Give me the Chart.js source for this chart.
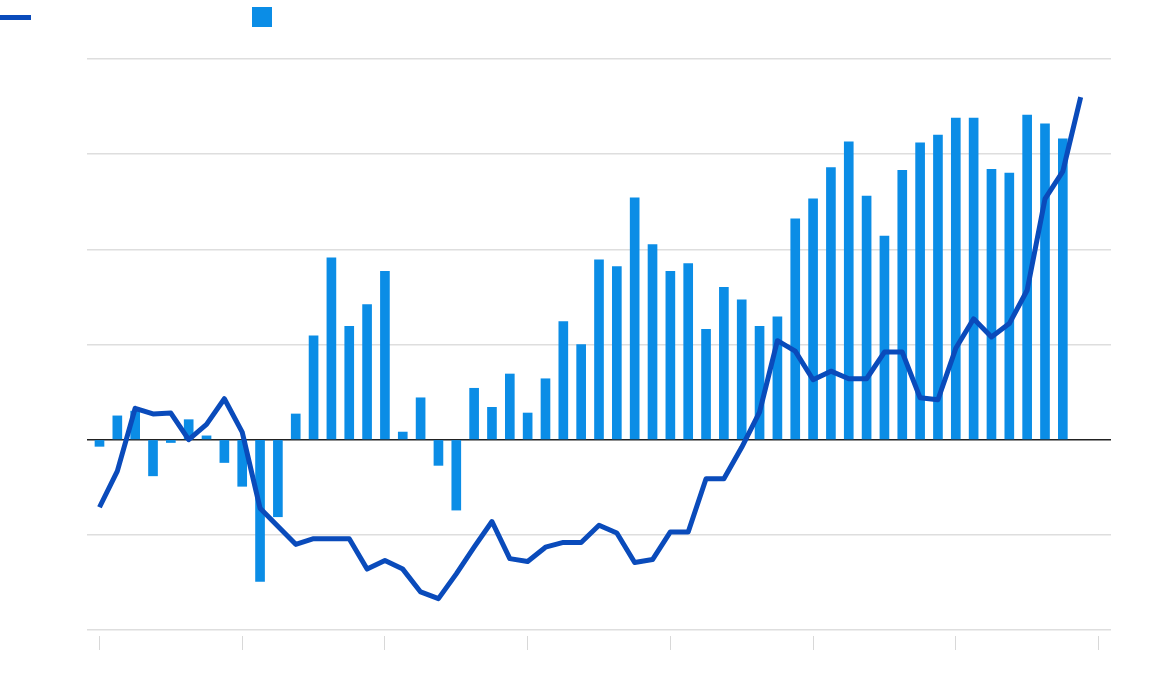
<!DOCTYPE html>
<html>
<head>
<meta charset="utf-8">
<script src="https://cdn.jsdelivr.net/npm/chart.js@4"></script>
<style>
  html, body { margin: 0; padding: 0; background: #fff; }
  #wrap { width: 1168px; height: 678px; }
</style>
</head>
<body>
<div id="wrap"><canvas id="myChart"></canvas></div>
<script>
// quarter index of each observation
const periods = [];
for (let i = 0; i < 56; i++) periods.push(i);

// bars: change per quarter (last quarter not published yet)
const changeValues = [-0.07, 0.25, 0.3, -0.38, -0.03, 0.21, 0.04, -0.24, -0.49, -1.49,
  -0.81, 0.27, 1.09, 1.91, 1.19, 1.42, 1.77, 0.08, 0.44, -0.27,
  -0.74, 0.54, 0.34, 0.69, 0.28, 0.64, 1.24, 1.0, 1.89, 1.82,
  2.54, 2.05, 1.77, 1.85, 1.16, 1.6, 1.47, 1.19, 1.29, 2.32,
  2.53, 2.86, 3.13, 2.56, 2.14, 2.83, 3.12, 3.2, 3.38, 3.38,
  2.84, 2.8, 3.41, 3.32, 3.16, null];

// line: level
const levelValues = [-0.71, -0.33, 0.33, 0.27, 0.28, 0.0, 0.16, 0.43, 0.08, -0.72,
  -0.91, -1.1, -1.04, -1.04, -1.04, -1.36, -1.27, -1.36, -1.6, -1.67,
  -1.41, -1.13, -0.86, -1.25, -1.28, -1.13, -1.08, -1.08, -0.9, -0.98,
  -1.29, -1.26, -0.97, -0.97, -0.41, -0.41, -0.08, 0.29, 1.04, 0.93,
  0.63, 0.72, 0.64, 0.64, 0.92, 0.92, 0.44, 0.42, 0.96, 1.27,
  1.08, 1.22, 1.57, 2.53, 2.82, 3.6];

// y gridlines
const yTicks = [-2, -1, 0, 1, 2, 3, 4];

const lineColor = "#0a4bbb";
const barColor = "#0b8de6";

// the two legend markers, no labels in the picture
const legendMarks = {
  id: "legendMarks",
  afterDraw(chart) {
    const ctx = chart.ctx;
    ctx.save();
    ctx.fillStyle = lineColor;
    ctx.fillRect(0, 15, 31, 5);
    ctx.fillStyle = barColor;
    ctx.fillRect(252, 7, 20, 20);
    ctx.restore();
  }
};

new Chart("myChart", {
  data: {
    datasets: [
      {
        type: "line",
        data: periods.map((p, i) => ({ x: p, y: levelValues[i] })),
        borderColor: lineColor,
        borderWidth: 5,
        pointRadius: 0,
        tension: 0,
        borderJoinStyle: "round",
        order: 0,
      },
      {
        type: "bar",
        data: periods.map((p, i) => ({ x: p, y: changeValues[i] })),
        backgroundColor: barColor,
        barThickness: 9,
        order: 1,
      },
    ],
  },
  options: {
    responsive: true,
    maintainAspectRatio: false,
    animation: false,
    layout: { padding: { left: 87, right: 57, top: 59, bottom: 0 } },
    plugins: { legend: { display: false }, tooltip: { enabled: false } },
    scales: {
      x: {
        type: "linear",
        min: -0.7,
        max: 56.7,
        offset: false,
        border: { display: false },
        grid: {
          offset: false,
          drawOnChartArea: false,
          drawTicks: true,
          tickLength: 14,
          color: "#d8d8d8",
        },
        ticks: { display: false, stepSize: 8, includeBounds: false },
        afterBuildTicks: (s) => { s.ticks = s.ticks.filter(t => t.value % 8 === 0); },
        afterFit: (s) => { s.height = 42; },
      },
      y: {
        min: -2.063,
        max: 4,
        border: { display: false },
        grid: {
          drawTicks: false,
          color: (c) => (c.tick && c.tick.value === 0 ? "#222" : "#dedede"),
          lineWidth: 1.5,
        },
        ticks: { display: false, stepSize: 1, includeBounds: false },
        afterBuildTicks: (s) => { s.ticks = yTicks.map(v => ({ value: v })); },
        afterFit: (s) => { s.width = 0; },
      },
    },
  },
  plugins: [legendMarks],
});
</script>
</body>
</html>
